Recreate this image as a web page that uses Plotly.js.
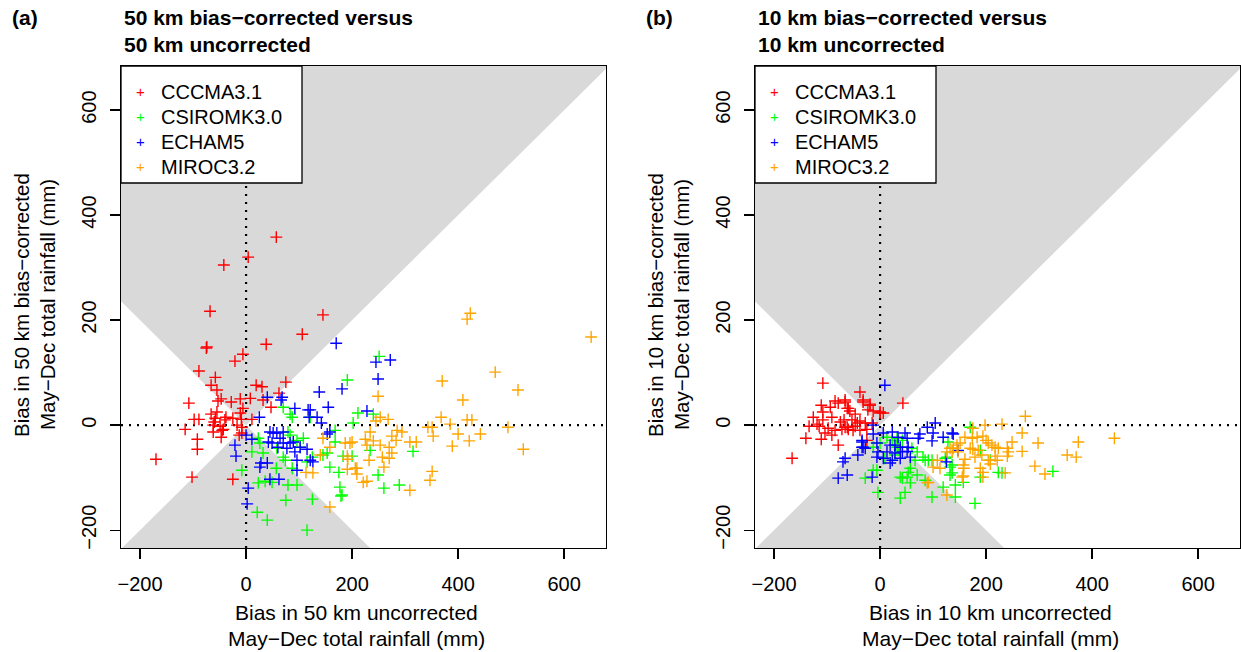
<!DOCTYPE html>
<html>
<head>
<meta charset="utf-8">
<script src="https://cdn.plot.ly/plotly-3.0.1.min.js"></script>
<style>html,body{margin:0;padding:0;background:#fff;}#chart{width:1241px;height:652px;}</style>
</head>
<body>
<div id="chart"></div>
<script>
// ---------------- DATA ----------------
const models = ["CCCMA3.1", "CSIROMK3.0", "ECHAM5", "MIROC3.2"];
const modelColors = ["#FF0000", "#00FF00", "#0000FF", "#FFA500"];
const xTicks = [-200, 0, 200, 400, 600];
const yTicks = [-200, 0, 200, 400, 600];

// Panel (a): 50 km
const a_cccma_x = [57,4,-42,-68,-75,-74,145,106,38,-6,-21,-89,-58,-66,-55,75,19,30,62,-108,-53,-47,-28,-11,8,32,47,-6,-55,-66,-58,-38,-25,-98,-89,-60,-40,-11,-9,11,-17,-8,-49,-43,-115,-62,-47,-92,-92,-170,-25,-102,-62,-45,-8,-13];
const a_cccma_y = [358,320,305,217,147,149,210,173,154,135,122,103,91,76,67,82,76,73,61,42,46,50,44,50,51,48,34,32,25,21,13,15,13,11,11,6,10,23,11,11,0,-4,-2,-8,-8,-13,-23,-27,-46,-65,-103,-99,0,-10,-15,-19];
const a_csiro_x = [87,83,211,202,23,26,11,32,79,83,96,108,102,58,70,74,125,115,153,168,168,-8,57,87,158,175,23,36,49,79,96,177,181,75,125,21,40,115,145,191,251,121,240,183,200,234,315,260,289,179,249,70];
const a_csiro_y = [15,21,23,4,-25,-34,-51,-53,-13,-19,-29,-25,-42,-44,-61,-67,-61,-70,-53,-32,-10,-86,-82,-82,-80,-90,-110,-107,-109,-114,-114,-118,-133,-143,-141,-166,-181,-200,-57,86,131,15,21,-59,-59,-48,-50,-120,-114,-135,-95,34];
const a_echam_x = [170,138,181,155,92,117,66,68,40,25,119,134,245,272,249,228,121,142,158,153,-21,-19,11,45,51,42,49,64,70,60,83,89,102,115,92,121,126,96,28,40,26,96,45,62,4,2,70,58,77,0];
const a_echam_y = [156,63,69,34,32,29,48,53,53,15,15,15,120,124,88,27,29,4,-13,-17,-38,-59,-27,-13,-15,-32,-34,-25,-34,-42,-34,-32,-42,-46,-51,-67,-70,-67,-72,-72,-80,-86,-103,-103,-120,-150,-13,-15,-44,-19];
const a_miroc_x = [423,417,651,470,370,513,409,249,253,268,245,368,417,426,385,343,351,494,234,285,294,400,442,353,275,283,225,240,196,309,321,421,389,253,228,270,523,275,257,270,192,232,260,209,191,209,351,347,221,228,309,158,145,158,187,200,191,206,113,126,140];
const a_miroc_y = [213,202,168,101,84,67,48,55,15,11,8,15,10,10,2,-4,-4,-4,-13,-10,-13,-17,-17,-21,-21,-29,-27,-30,-34,-32,-32,-30,-40,-38,-38,-42,-46,-53,-61,-63,-65,-67,-80,-82,-84,-93,-88,-105,-109,-107,-124,-156,-25,-42,-34,-32,-59,-82,-90,-91,-57];

// Panel (b): 10 km
const b_cccma_x = [-108,-38,-85,-79,-66,-111,-108,-94,-60,-57,-32,-19,-23,-13,0,6,-47,-126,-91,-108,-119,-134,-115,-75,-53,-38,-28,-15,-98,-85,-72,-66,-60,-47,-38,-25,-104,-91,-140,-111,-79,-25,-166,-32,-19,-66,-62,-43,-51,-62,43,0,-68];
const b_cccma_y = [80,63,46,42,44,38,25,34,32,27,44,40,29,27,23,23,21,15,15,10,2,-2,-2,6,10,8,4,4,-6,-10,-8,-4,-8,-2,-10,-8,-15,-19,-25,-27,-38,-29,-63,48,38,48,32,4,-10,-4,42,25,10];
const b_csiro_x = [170,0,34,9,13,32,42,60,70,66,81,91,85,98,57,53,51,38,42,57,47,38,-13,-28,-4,70,85,98,119,142,132,136,157,179,126,128,-13,-6,23,32,28,123,136,132,142,189,189,208,223,230,326];
const b_csiro_y = [-4,-34,-42,-63,-23,-25,-29,-44,-51,-67,-61,-67,-67,-67,-82,-90,-99,-99,-101,-110,-128,-139,-86,-101,-128,-95,-105,-137,-118,-137,-80,-91,-109,-149,-61,-32,-42,-86,-29,-42,-57,-63,-76,-95,-114,-48,-99,-67,-90,-91,-88];
const b_echam_x = [9,89,104,-13,6,23,34,47,51,75,100,98,119,136,-34,-34,-42,-28,-6,19,28,38,53,-4,13,28,42,51,-6,6,23,38,57,19,-66,-62,-15,147,72,-13,-34,-32,-70,-79,138,125];
const b_echam_y = [76,-4,4,-17,-15,-13,-23,-15,-25,-17,-15,-30,-23,-15,-32,-42,-57,-44,-34,-38,-38,-42,-42,-51,-51,-53,-51,-50,-61,-63,-67,-63,-61,-72,-63,-95,-99,-48,-25,0,-29,-42,-70,-101,-17,-70];
const b_miroc_x = [274,230,198,175,268,194,200,204,249,298,374,160,174,151,145,138,136,147,170,175,185,192,211,217,223,240,242,240,268,217,221,208,179,160,157,158,189,194,194,236,292,311,353,370,157,126,126,442,183,132,108,113,100,155,89,91,204];
const b_miroc_y = [17,2,0,-6,-15,-21,-29,-34,-32,-34,-32,-23,-25,-34,-38,-44,-51,-51,-44,-46,-48,-57,-38,-42,-44,-44,-51,-59,-50,-59,-67,-74,-61,-65,-76,-82,-82,-90,-99,-91,-78,-93,-57,-61,-97,-133,-51,-25,-23,-44,-67,-82,-80,-99,-110,-109,-67];

const titlesA = ["50 km bias\u2212corrected versus", "50 km uncorrected"];
const titlesB = ["10 km bias\u2212corrected versus", "10 km uncorrected"];
const yTitleA = ["Bias in 50 km bias\u2212corrected", "May\u2212Dec total rainfall (mm)"];
const yTitleB = ["Bias in 10 km bias\u2212corrected", "May\u2212Dec total rainfall (mm)"];
const xTitleA = ["Bias in 50 km uncorrected", "May\u2212Dec total rainfall (mm)"];
const xTitleB = ["Bias in 10 km uncorrected", "May\u2212Dec total rainfall (mm)"];

// ---------------- LAYOUT ----------------
const W = 1241, H = 652;
const FONT = "Liberation Sans, Arial, Helvetica, sans-serif";
const XR = [-236, 679], YR = [-234, 684];
const PA = {l: 121, r: 606, t: 66, b: 548};
const PB = {l: 755, r: 1240, t: 66, b: 548};
const px = v => v / W, py = v => 1 - v / H;

const panelData = [
  [[a_cccma_x,a_cccma_y],[a_csiro_x,a_csiro_y],[a_echam_x,a_echam_y],[a_miroc_x,a_miroc_y]],
  [[b_cccma_x,b_cccma_y],[b_csiro_x,b_csiro_y],[b_echam_x,b_echam_y],[b_miroc_x,b_miroc_y]]
];
const traces = [];
panelData.forEach((pd, p) => {
  pd.forEach((xy, i) => {
    traces.push({
      type: "scatter", mode: "markers", x: xy[0], y: xy[1],
      xaxis: p === 0 ? "x" : "x2", yaxis: p === 0 ? "y" : "y2",
      name: models[i], showlegend: false, hoverinfo: "x+y+name",
      marker: {symbol: "cross-thin", size: 8.5, color: modelColors[i], line: {color: modelColors[i], width: 1.4}},
      cliponaxis: true
    });
  });
});

function axisX(dom, anchor) {
  return {domain: dom, anchor: anchor, range: XR, tickvals: xTicks, ticks: "outside", ticklen: 10, tickwidth: 1.3,
    tickcolor: "black", showline: true, mirror: true, linewidth: 1.3, linecolor: "black", showgrid: false,
    zeroline: false, tickfont: {size: 20, color: "black"}, ticklabelstandoff: 8, fixedrange: true};
}
function axisY(anchor) {
  return {domain: [py(PA.b), py(PA.t)], anchor: anchor, range: YR, tickvals: yTicks, ticks: "outside", ticklen: 10,
    tickwidth: 1.3, tickcolor: "black", showline: true, mirror: true, linewidth: 1.3, linecolor: "black",
    showgrid: false, zeroline: false, tickangle: -90, tickfont: {size: 20, color: "black"}, ticklabelstandoff: 6, fixedrange: true};
}

const shapes = [];
const annotations = [];
[["x","y",PA,titlesA,"(a)",yTitleA,xTitleA],["x2","y2",PB,titlesB,"(b)",yTitleB,xTitleB]].forEach(([xr, yr, P, tt, tag, yt, xt]) => {
  // shaded region |y| > |x|
  shapes.push({type: "path", xref: xr, yref: yr, layer: "below", line: {width: 0}, fillcolor: "#D9D9D9",
    path: `M ${XR[0]},${-XR[0]} L 0,0 L ${XR[1]},${XR[1]} L ${XR[1]},${YR[1]} L ${XR[0]},${YR[1]} Z`});
  shapes.push({type: "path", xref: xr, yref: yr, layer: "below", line: {width: 0}, fillcolor: "#D9D9D9",
    path: `M ${YR[0]},${YR[0]} L 0,0 L ${-YR[0]},${YR[0]} Z`});
  // dotted zero lines
  shapes.push({type: "line", xref: xr, yref: yr, layer: "below", x0: 0, x1: 0, y0: YR[0], y1: YR[1], line: {color: "black", width: 2.2, dash: "2px,6px"}});
  shapes.push({type: "line", xref: xr, yref: yr, layer: "below", x0: XR[0], x1: XR[1], y0: 0, y1: 0, line: {color: "black", width: 2.2, dash: "2px,6px"}});
  // legend box
  shapes.push({type: "rect", xref: "paper", yref: "paper", layer: "above", x0: px(P.l), x1: px(P.l + 181), y0: py(183), y1: py(P.t),
    line: {color: "black", width: 1.3}, fillcolor: "white"});
  const rows = [92, 117, 142, 167];
  models.forEach((m, i) => {
    annotations.push({xref: "paper", yref: "paper", x: px(P.l + 19), y: py(rows[i]), text: "+", showarrow: false,
      xanchor: "center", yanchor: "middle", font: {family: FONT, size: 15, color: modelColors[i]}});
    annotations.push({xref: "paper", yref: "paper", x: px(P.l + 38), y: py(rows[i]), text: m, showarrow: false,
      xanchor: "left", yanchor: "middle", font: {family: FONT, size: 20, color: "black"}});
  });
  // titles
  annotations.push({xref: "paper", yref: "paper", x: px(P.l - 111), y: py(18), text: "<b>" + tag + "</b>", showarrow: false,
    xanchor: "left", yanchor: "middle", font: {family: FONT, size: 21, color: "black"}});
  annotations.push({xref: "paper", yref: "paper", x: px(P.l + 1), y: py(18), text: "<b>" + tt[0] + "</b>", showarrow: false,
    xanchor: "left", yanchor: "middle", font: {family: FONT, size: 21, color: "black"}});
  annotations.push({xref: "paper", yref: "paper", x: px(P.l + 1), y: py(44), text: "<b>" + tt[1] + "</b>", showarrow: false,
    xanchor: "left", yanchor: "middle", font: {family: FONT, size: 21, color: "black"}});
  // y titles
  const cy = (P.t + P.b) / 2;
  annotations.push({xref: "paper", yref: "paper", x: px(P.l - 100), y: py(cy - 2), text: yt[0], textangle: -90, showarrow: false,
    xanchor: "center", yanchor: "middle", font: {family: FONT, size: 20.5, color: "black"}});
  annotations.push({xref: "paper", yref: "paper", x: px(P.l - 74), y: py(cy - 2), text: yt[1], textangle: -90, showarrow: false,
    xanchor: "center", yanchor: "middle", font: {family: FONT, size: 20.5, color: "black"}});
  // x titles
  const cx = (P.l + P.r) / 2 - 7;
  annotations.push({xref: "paper", yref: "paper", x: px(cx), y: py(612), text: xt[0], showarrow: false,
    xanchor: "center", yanchor: "middle", font: {family: FONT, size: 21, color: "black"}});
  annotations.push({xref: "paper", yref: "paper", x: px(cx), y: py(638), text: xt[1], showarrow: false,
    xanchor: "center", yanchor: "middle", font: {family: FONT, size: 21, color: "black"}});
});

const layout = {
  width: W, height: H, margin: {l: 0, r: 0, t: 0, b: 0},
  paper_bgcolor: "white", plot_bgcolor: "white",
  font: {family: FONT, color: "black"},
  showlegend: false,
  xaxis: axisX([px(PA.l), px(PA.r)], "y"),
  yaxis: axisY("x"),
  xaxis2: axisX([px(PB.l), px(PB.r)], "y2"),
  yaxis2: axisY("x2"),
  shapes: shapes,
  annotations: annotations
};

Plotly.newPlot("chart", traces, layout, {displayModeBar: false, staticPlot: true});
</script>
</body>
</html>
